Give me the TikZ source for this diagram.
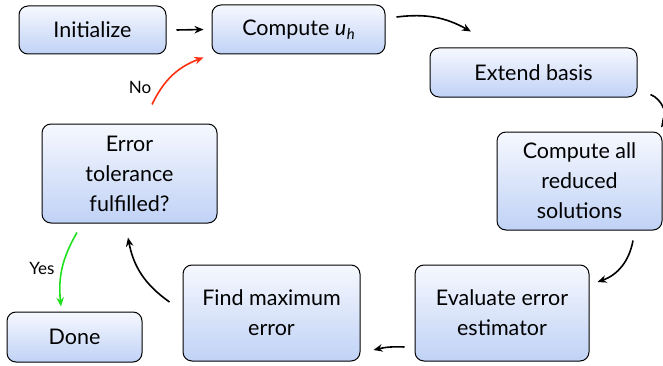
\documentclass[tikz,border=0pt]{standalone}
\usepackage{fontspec}
\setmainfont{Lato}
\usetikzlibrary{arrows.meta,calc}
\definecolor{boxtop}{HTML}{F6F8FE}
\definecolor{boxbot}{HTML}{C0D2F6}
\definecolor{noRed}{HTML}{FF3010}
\definecolor{yesGreen}{HTML}{20E020}
\tikzset{
  stepbox/.style={draw=black, line width=1pt, rounded corners=9pt,
    top color=boxtop, bottom color=boxbot, align=center,
    font=\fontsize{21.5}{30}\selectfont, inner sep=0pt},
  flow/.style={-{Stealth[length=9pt,width=7.5pt]}, line width=1.6pt},
  lbl/.style={font=\fontsize{17}{19}\selectfont}
}
\begin{document}
\begin{tikzpicture}[x=1pt,y=1pt]
\useasboundingbox (0,0) rectangle (663,365);
\node[stepbox, minimum width=147pt, minimum height=48pt] (init) at (92.5,335) {Initialize};
\node[stepbox, minimum width=173pt, minimum height=49pt] (comp) at (298.5,335.5) {Compute {\itshape u\kern0.5pt\raisebox{-0.35ex}{\fontsize{15}{15}\selectfont h}}};
\node[stepbox, minimum width=207pt, minimum height=49pt] (ext) at (533.5,292.5) {Extend basis};
\node[stepbox, minimum width=165pt, minimum height=98pt] (all) at (579.5,184) {Compute all\\reduced\\solutions};
\node[stepbox, minimum width=174pt, minimum height=96pt] (eval) at (502,52) {Evaluate error\\estimator};
\node[stepbox, minimum width=177pt, minimum height=96pt] (find) at (271.5,52) {Find maximum\\error};
\node[stepbox, minimum width=175pt, minimum height=99pt] (err) at (129.5,191.5) {Error\\tolerance\\fulfilled?};
\node[stepbox, minimum width=135pt, minimum height=50pt] (done) at (74.5,28) {Done};

\draw[flow] ([xshift=10pt]init.east) -- ([xshift=-8pt]comp.west);
\draw[flow] ([shift={(11pt,12.5pt)}]comp.east) to[bend left=18] ([shift={(-62.5pt,16pt)}]ext.north);
\draw[flow] ([shift={(13pt,-22pt)}]ext.east) to[bend left=50] ([shift={(81.5pt,4pt)}]all.north);
\draw[flow] ([shift={(53.5pt,-10pt)}]all.south) to[bend left=30] ([shift={(8pt,31pt)}]eval.east);
\draw[flow] ([shift={(-10pt,-34pt)}]eval.west) to[bend right=8] ([shift={(13pt,-37pt)}]find.east);
\draw[flow] ([shift={(-13pt,11pt)}]find.west) to[bend left=22] ([shift={(-1.5pt,-14pt)}]err.south);
\draw[flow, noRed] ([shift={(22.5pt,19pt)}]err.north) to[bend left=22] ([shift={(-8pt,-3pt)}]comp.south west);
\node[lbl] (no) at (140,278) {No};
\draw[flow, yesGreen] ([shift={(-52.5pt,-9pt)}]err.south) to[bend right=18] ([shift={(-13.5pt,5pt)}]done.north);
\node[lbl] (yes) at (42,97) {Yes};
\end{tikzpicture}
\end{document}
